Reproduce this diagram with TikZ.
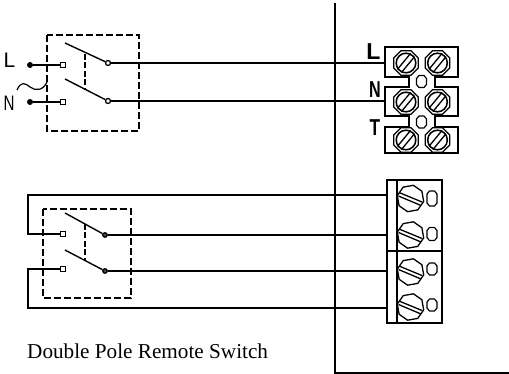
\documentclass[tikz,border=0pt]{standalone}
\usepackage{fontspec}
\usepackage{graphicx}
\setmainfont{Liberation Serif}
\newfontfamily\lblfont{Liberation Sans}
\usetikzlibrary{shapes.geometric,calc}
\tikzset{
  wire/.style={line width=1.4pt},
  dashbox/.style={line width=1.5pt,dash pattern=on 7pt off 3pt},
  linkdash/.style={line width=1.4pt,dash pattern=on 6pt off 2.5pt},
  contact/.style={draw,line width=1.3pt,fill=white,rectangle,minimum size=4.5pt,inner sep=0pt},
  rcontact/.style={draw,line width=1.3pt,fill=white,circle,minimum size=5pt,inner sep=0pt},
  fcontact/.style={draw,line width=1.3pt,fill=black!70,circle,minimum size=4.5pt,inner sep=0pt},
  dotc/.style={fill=black,circle,minimum size=6pt,inner sep=0pt},
  lbl/.style={font=\lblfont\fontsize{21}{21}\selectfont,inner sep=0pt},
  blbl/.style={font=\lblfont\bfseries\fontsize{23}{23}\selectfont,inner sep=0pt},
  blockline/.style={line width=1.5pt},
  screwline/.style={line width=1.3pt},
}
\newcommand{\topscrew}[2]{%
  \node[draw,line width=1.3pt,regular polygon,regular polygon sides=8,minimum size=26.5pt,inner sep=0pt] at (#1,#2) {};
  \draw[line width=1.5pt] (#1,#2) circle (9.8);
  \draw[line width=1.3pt] ($(#1,#2)+(-8.6,6.4)$) -- ($(#1,#2)+(4.6,-9.6)$);
  \draw[line width=1.3pt] ($(#1,#2)+(-4.6,9.6)$) -- ($(#1,#2)+(8.6,-6.4)$);
}
\newcommand{\botscrew}[2]{%
  \node[draw,screwline,regular polygon,regular polygon sides=8,shape border rotate=10,minimum size=27pt,inner sep=0pt] at (#1,#2) {};
  \draw[screwline] ($(#1,#2)+(-11.5,-6)$) -- ($(#1,#2)+(11.5,3.5)$);
  \draw[screwline] ($(#1,#2)+(-12,-2.5)$) -- ($(#1,#2)+(10.5,7)$);
}
% chamfered small terminal: centre, half width, half height
\newcommand{\chamf}[4]{%
  \draw[line width=1.2pt,line join=round] ($(#1,#2)+(-#3+2.5,-#4)$) -- ($(#1,#2)+(#3-2.5,-#4)$) -- ($(#1,#2)+(#3,-#4+3)$) -- ($(#1,#2)+(#3,#4-3)$) -- ($(#1,#2)+(#3-2.5,#4)$) -- ($(#1,#2)+(-#3+2.5,#4)$) -- ($(#1,#2)+(-#3,#4-3)$) -- ($(#1,#2)+(-#3,-#4+3)$) -- cycle;
}
\begin{document}
\begin{tikzpicture}[x=1pt,y=-1pt]
\useasboundingbox (0,0) rectangle (509,374);
% panel
\coordinate (pt) at (335,3);
\coordinate (pb) at (335,373);
\coordinate (pr) at (509,373);
\draw[wire] (pt) -- (pb) -- (pr);

% top switch
\draw[dashbox] (47,35) rectangle (139,131);
\node[dotc] (Ld) at (30,65) {};
\node[dotc] (Nd) at (30,102) {};
\node[contact] (La) at (63,65) {};
\node[contact] (Na) at (63,102) {};
\node[rcontact] (Lb) at (108,63) {};
\node[rcontact] (Nb) at (108,101) {};
\node[lbl,anchor=base] (Ltxt) at (9.5,68) {L};
\node[lbl,anchor=base] (Ntxt) at (9,111) {\scalebox{.72}[1]{N}};
\draw[wire] (Ld) -- (La);
\draw[wire] (Nd) -- (Na);
\coordinate (bl1) at (65,43);
\coordinate (bl2) at (65,79);
\draw[wire] (bl1) -- (Lb);
\draw[wire] (bl2) -- (Nb);
\draw[linkdash] (85,54) -- (85,90);
\draw[line width=1.2pt] (17,90) .. controls (21,81) and (25,83) .. (30,87) .. controls (35,91) and (43,91) .. (47,82);

% top block
\coordinate (tL) at (385,63);
\coordinate (tN) at (385,101);
\draw[wire] (Lb) -- (tL);
\draw[wire] (Nb) -- (tN);
\draw[blockline] (385,47) -- (458,47) -- (458,77) -- (435,77) -- (435,87) -- (458,87) -- (458,116) -- (435,116) -- (435,127) -- (458,127) -- (458,153) -- (385,153) -- (385,127) -- (409,127) -- (409,116) -- (385,116) -- (385,87) -- (409,87) -- (409,77) -- (385,77) -- cycle;
\foreach \yy in {63,102,140}{\topscrew{406}{\yy}\topscrew{437.5}{\yy}}
\chamf{421.5}{81.5}{5}{6}
\chamf{421.5}{122}{5}{6}
\node[blbl,anchor=base] (tlL) at (373.5,60) {L};
\node[blbl,anchor=base] (tlN) at (375,98) {\scalebox{.7}[1]{N}};
\node[blbl,anchor=base] (tlT) at (375,136) {\scalebox{.75}[1]{T}};

% bottom switch
\draw[dashbox] (43,209) rectangle (131,298);
\node[contact] (Ra) at (63,234) {};
\node[contact] (Sa) at (63,269) {};
\node[fcontact] (Rb) at (105,235) {};
\node[fcontact] (Sb) at (105,271) {};
\coordinate (bl3) at (65,213);
\coordinate (bl4) at (65,250);
\draw[wire] (bl3) -- (Rb);
\draw[wire] (bl4) -- (Sb);
\draw[linkdash] (85,224) -- (85,260);

% bottom block
\draw[blockline] (387,180) rectangle (442,323);
\draw[blockline] (397,180) -- (397,323);
\draw[blockline] (387,251) -- (442,251);
\coordinate (b1) at (387,195);
\coordinate (b2) at (387,235);
\coordinate (b3) at (387,271);
\coordinate (b4) at (387,308);
\draw[wire] (b1) -- (28,195) -- (28,234) -- (Ra);
\draw[wire] (Rb) -- (b2);
\draw[wire] (Sb) -- (b3);
\draw[wire] (b4) -- (28,308) -- (28,269) -- (Sa);
\foreach \yy in {198.5,235,272,307}{\botscrew{410.5}{\yy}}
\chamf{432}{198.5}{5}{7.5}
\chamf{432}{234}{5}{6.5}
\chamf{432}{269}{5}{6}
\chamf{432}{305}{5}{6}

\node[font=\fontsize{21.2}{21.2}\selectfont,anchor=west,inner sep=0pt] (cap) at (27,351) {Double Pole Remote Switch};
\end{tikzpicture}
\end{document}
